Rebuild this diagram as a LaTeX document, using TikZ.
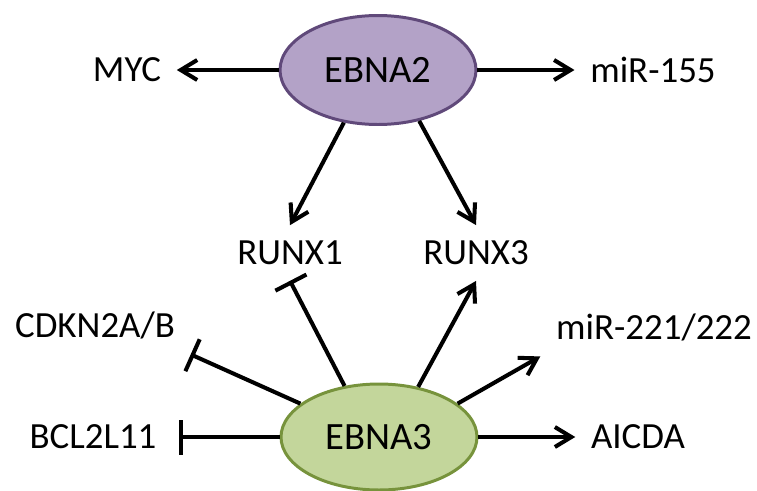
\documentclass[tikz,border=0pt]{standalone}
\usepackage{fontspec}
\setmainfont{Carlito}
\usepackage{tikz}
\usetikzlibrary{shapes.geometric,arrows.meta}
\usepackage{xcolor}
\definecolor{lilac}{RGB}{179,162,199}
\definecolor{lilacdark}{RGB}{96,73,122}
\definecolor{leaf}{RGB}{195,214,155}
\definecolor{leafdark}{RGB}{119,147,60}

\begin{document}
\begin{tikzpicture}[
    prot/.style={ellipse, draw, line width=1.7pt, minimum width=3.92cm,
                 minimum height=2.18cm, font=\fontsize{22}{26}\selectfont},
    gene/.style={inner sep=0pt, outer sep=9pt, font=\fontsize{21}{25}\selectfont},
    arr/.style={-{Straight Barb[length=3.3mm,width=4mm]}, line width=2.3pt},
    inh/.style={-{Bar[width=7mm]}, line width=2.3pt}
]
    \useasboundingbox (0,0) rectangle (15.14,9.8);
    \node[prot, fill=lilac, draw=lilacdark] (ebb) at (7.56, 8.40) {EBNA2};
    \node[prot, fill=leaf, draw=leafdark, minimum height=2.12cm] (ebc) at (7.58, 1.06) {EBNA3};
    \node[gene] (myc)  at ( 2.54, 8.40) {MYC};
    \node[gene] (m155) at (13.06, 8.40) {miR-155};
    \node[gene] (rx1)  at ( 5.80, 4.74) {RUNX1};
    \node[gene] (rx3)  at ( 9.52, 4.74) {RUNX3};
    \node[gene] (cdk)  at ( 1.90, 3.30) {CDKN2A/B};
    \node[gene] (m221) at (13.08, 3.26) {miR-221/222};
    \node[gene] (bcl)  at ( 1.86, 1.06) {BCL2L11};
    \node[gene] (aid)  at (12.76, 1.06) {AICDA};
    % EBNA2 targets
    \draw[arr] (ebb.west) -- (myc.east);
    \draw[arr] (ebb.east) -- (m155.west);
    \draw[arr] (ebb.237) -- (rx1.north);
    \draw[arr] (ebb.309) -- (rx3.north);
    % EBNA3 targets
    \draw[inh] (ebc.west) -- ([xshift=4pt]bcl.east);
    \draw[inh] (ebc.157) -- (cdk.south east);
    \draw[inh] (ebc.124) -- (rx1.south);
    \draw[arr] (ebc.52) -- (rx3.south);
    \draw[arr] (ebc.23) -- (m221.south west);
    \draw[arr] (ebc.east) -- (aid.west);
\end{tikzpicture}
\end{document}
